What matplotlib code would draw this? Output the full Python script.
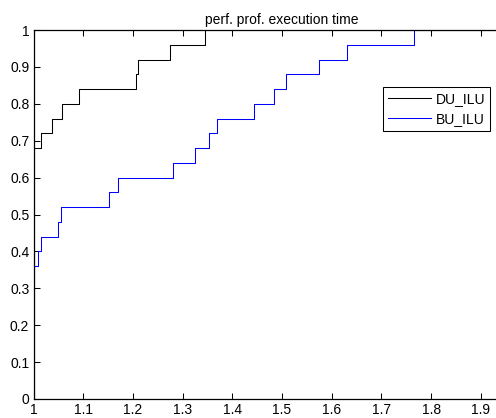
import numpy as np
import matplotlib
matplotlib.use("Agg")
import matplotlib.pyplot as plt

plt.rcParams['font.family'] = ['Liberation Sans', 'DejaVu Sans']

# performance profile: tau where each step happens, and fraction of problems
du_tau = [1.0, 1.0145, 1.038, 1.057, 1.092, 1.2056, 1.21, 1.275, 1.345]
du_frac = [0.68, 0.72, 0.76, 0.80, 0.84, 0.88, 0.92, 0.96, 1.0]

bu_tau = [1.0, 1.009, 1.0157, 1.05, 1.0547, 1.151, 1.171, 1.28, 1.3256,
          1.354, 1.3686, 1.4437, 1.4846, 1.5087, 1.575, 1.6308, 1.766]
bu_frac = [0.36, 0.40, 0.44, 0.48, 0.52, 0.56, 0.60, 0.64, 0.68,
           0.72, 0.76, 0.80, 0.84, 0.88, 0.92, 0.96, 1.0]

x_ticks = [1, 1.1, 1.2, 1.3, 1.4, 1.5, 1.6, 1.7, 1.8, 1.9]
x_ticklabels = ['1', '1.1', '1.2', '1.3', '1.4', '1.5', '1.6', '1.7', '1.8', '1.9']
y_ticks = [0, 0.1, 0.2, 0.3, 0.4, 0.5, 0.6, 0.7, 0.8, 0.9, 1]
y_ticklabels = ['0', '0.1', '0.2', '0.3', '0.4', '0.5', '0.6', '0.7', '0.8', '0.9', '1']

XMAX = 2.0

fig = plt.figure(figsize=(4.96, 4.18), dpi=100)
# axes runs off the right edge, like the cropped original
ax = fig.add_axes([33.5 / 496, 19 / 418, 497 / 496, 369 / 418])


def profile(tau, frac):
    x = np.r_[tau[0], tau, XMAX]
    y = np.r_[0, frac, frac[-1]]
    return x, y


x, y = profile(du_tau, du_frac)
ax.step(x, y, where='post', color='black', lw=0.75, label='DU_ILU')
x, y = profile(bu_tau, bu_frac)
ax.step(x, y, where='post', color='blue', lw=0.75, label='BU_ILU')

ax.set_xlim(1, XMAX)
ax.set_ylim(0, 1)
ax.set_xticks(x_ticks)
ax.set_xticklabels(x_ticklabels)
ax.set_yticks(y_ticks)
ax.set_yticklabels(y_ticklabels)
ax.tick_params(direction='in', length=4, width=0.75, labelsize=10,
               top=True, right=True, pad=3)
for s in ax.spines.values():
    s.set_linewidth(0.9)

ax.set_title('perf. prof. execution time', fontsize=10, pad=4)

leg = ax.legend(loc='upper right', bbox_to_anchor=(490 / 496, 1 - 86.7 / 418),
                bbox_transform=fig.transFigure, borderaxespad=0, fancybox=False,
                framealpha=1, edgecolor='black', fontsize=10, handlelength=3.1,
                borderpad=0.35, labelspacing=0.45, handletextpad=0.35)
leg.get_frame().set_linewidth(0.75)

fig.savefig('out.png', dpi=100)
